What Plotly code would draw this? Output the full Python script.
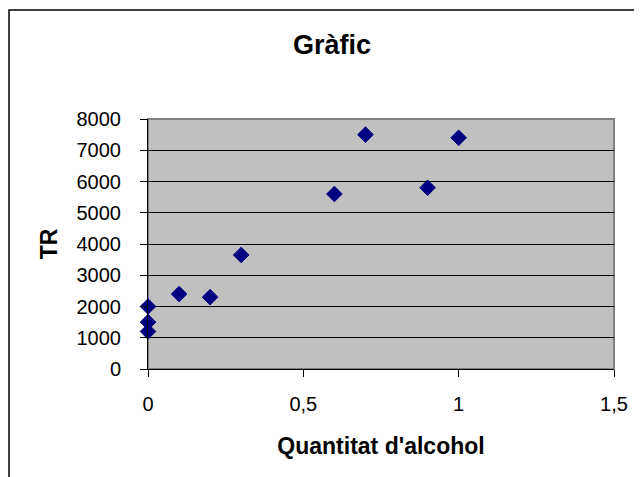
import plotly.graph_objects as go

# Data
alcohol = [0, 0, 0, 0.1, 0.2, 0.3, 0.6, 0.7, 0.9, 1.0]
tr = [2000, 1500, 1200, 2400, 2300, 3650, 5600, 7500, 5800, 7400]

x_ticks = [0, 0.5, 1, 1.5]
y_ticks = [0, 1000, 2000, 3000, 4000, 5000, 6000, 7000, 8000]

W, H = 642, 477
OFF = 8  # page body offset
ML, MR, MT, MB = 148 - OFF, 36, 119 - OFF, 116
pw = W - ML - MR
ph = H - MT - MB

fig = go.Figure()
fig.add_trace(go.Scatter(
    x=alcohol, y=tr, mode="markers",
    marker=dict(symbol="diamond", size=12, color="#000080",
                line=dict(color="#000080", width=1)),
    cliponaxis=False, showlegend=False,
))

font = "Liberation Sans, Arial, sans-serif"

def px_to_paper_x(px):
    return (px - OFF - ML) / pw

def px_to_paper_y(py):
    return (H - MB - (py - OFF)) / ph

fig.update_layout(
    width=W, height=H,
    margin=dict(l=ML, r=MR, t=MT, b=MB),
    paper_bgcolor="white",
    plot_bgcolor="#C0C0C0",
    separators=",.",
    font=dict(family=font, color="black", size=20),
    title=dict(text="<b>Gràfic</b>", x=px_to_paper_x(332), xref="paper",
               xanchor="center", y=1 - (45 - OFF) / H, yanchor="middle",
               font=dict(size=27, family=font, color="black")),
    xaxis=dict(
        range=[0, 1.5], tickvals=x_ticks, ticks="outside", ticklen=7,
        tickcolor="black", tickwidth=1, showgrid=False, zeroline=False,
        showline=True, linecolor="black", linewidth=1,
        ticklabelstandoff=10,
        tickfont=dict(size=20, family=font, color="black"),
        title=dict(text="<b>Quantitat d'alcohol</b>", standoff=23,
                   font=dict(size=23, family=font, color="black")),
    ),
    yaxis=dict(
        range=[0, 8000], tickvals=y_ticks, ticks="outside", ticklen=7,
        tickcolor="black", tickwidth=1, showgrid=True, gridcolor="black",
        gridwidth=1, zeroline=False,
        showline=True, linecolor="black", linewidth=1,
        ticklabelstandoff=15,
        tickfont=dict(size=20, family=font, color="black"),
        title=dict(text="<b>TR</b>", standoff=12,
                   font=dict(size=23, family=font, color="black")),
    ),
    shapes=[
        dict(type="rect", xref="paper", yref="paper", x0=0, y0=0, x1=1, y1=1,
             line=dict(color="#808080", width=2), layer="below"),
        dict(type="rect", xref="paper", yref="paper",
             x0=px_to_paper_x(9), y0=px_to_paper_y(520),
             x1=px_to_paper_x(680), y1=px_to_paper_y(10),
             line=dict(color="black", width=1.5)),
    ],
)

fig.write_html("out.html")
